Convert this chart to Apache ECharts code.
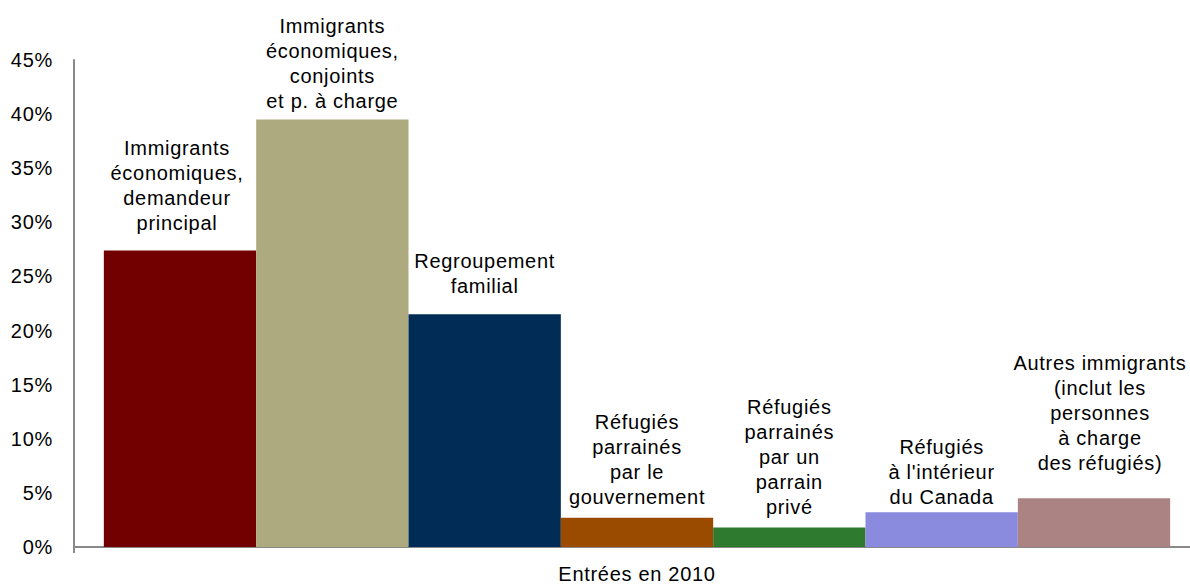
<!DOCTYPE html>
<html>
<head>
<meta charset="utf-8">
<script src="https://cdn.jsdelivr.net/npm/echarts@6/dist/echarts.min.js"></script>
<style>
  html, body { margin: 0; padding: 0; background: #fff; }
  #chart { width: 1190px; height: 584px; }
  #chart text { letter-spacing: 0.7px; }
</style>
</head>
<body>
<div id="chart"></div>
<script>
// Entrées en 2010, part de chaque catégorie d'immigration (%)
const category = ['Entrées en 2010'];
const seriesNames = [
  'Immigrants\néconomiques,\ndemandeur\nprincipal',
  'Immigrants\néconomiques,\nconjoints\net p. à charge',
  'Regroupement\nfamilial',
  'Réfugiés\nparrainés\npar le\ngouvernement',
  'Réfugiés\nparrainés\npar un\nparrain\nprivé',
  'Réfugiés\nà l\'intérieur\ndu Canada',
  'Autres immigrants\n(inclut les\npersonnes\nà charge\ndes réfugiés)'
];
const shares = [27.4, 39.5, 21.5, 2.7, 1.8, 3.2, 4.5];
const yTicks = { min: 0, max: 45, interval: 5 };

const colors = ['#720000', '#ADAA80', '#002C56', '#9A4B00', '#2E7A2E', '#8A8ADF', '#AB8383'];
const labelGap = [15, 6, 16, 8, 8, 3, 23];
const labelShift = [-3, 0, 0, 0, 0, 0, 6];

const font = '"Liberation Sans", Arial, sans-serif';
const chart = echarts.init(document.getElementById('chart'), null, { renderer: 'svg' });

// The plot band runs a little past the right edge of the canvas.
chart.setOption({
  animation: false,
  grid: {
    left: 74, top: 60, width: 1126, height: 487,
    containLabel: false,
    outerBoundsMode: 'none'
  },
  xAxis: {
    type: 'category',
    data: category,
    boundaryGap: true,
    axisLine: { show: true, lineStyle: { color: '#898989', width: 2 } },
    axisTick: { show: true, length: 6, lineStyle: { color: '#898989', width: 2 } },
    axisLabel: { margin: 17, fontFamily: font, fontSize: 20, color: '#000' }
  },
  yAxis: {
    type: 'value',
    min: yTicks.min,
    max: yTicks.max,
    interval: yTicks.interval,
    axisLine: { show: true, lineStyle: { color: '#898989', width: 2 } },
    axisTick: { show: false },
    splitLine: { show: false },
    axisLabel: {
      margin: 21,
      fontFamily: font,
      fontSize: 20,
      color: '#000',
      formatter: v => v + '%'
    }
  },
  series: seriesNames.map((name, i) => ({
    name: name,
    type: 'bar',
    data: [shares[i]],
    barGap: '0%',
    barCategoryGap: '5.3%',
    itemStyle: { color: colors[i] },
    label: {
      show: true,
      position: 'top',
      distance: labelGap[i],
      offset: [labelShift[i], 0],
      formatter: () => name,
      fontFamily: font,
      fontSize: 20,
      lineHeight: 25,
      color: '#000',
      align: 'center'
    }
  }))
});
</script>
</body>
</html>
